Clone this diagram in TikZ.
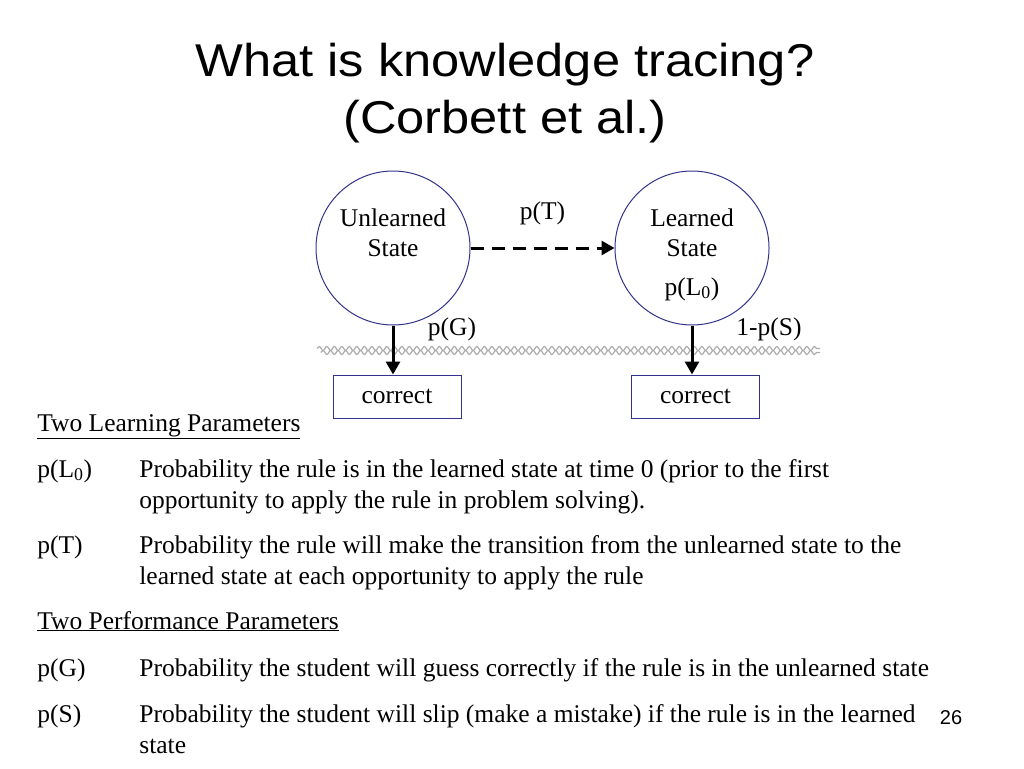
\documentclass[tikz,border=0pt]{standalone}
\usepackage{fontspec}
\setmainfont{Liberation Serif}
\newfontfamily\titlefont{Liberation Sans}
\usetikzlibrary{positioning,arrows.meta,decorations.pathmorphing}

\definecolor{statecol}{RGB}{51,51,140}

\begin{document}
\begin{tikzpicture}[x=1pt, y=-1pt, thick,
    state/.style={shape=circle, draw=statecol, line width=1pt, minimum size=154pt},
    obs/.style={shape=rectangle, draw=statecol, line width=1pt, minimum width=128pt, minimum height=43pt, font=\fontsize{25.5}{30}\selectfont},
    lbl/.style={font=\fontsize{25.5}{30}\selectfont},
    body/.style={anchor=base west, inner sep=0pt, font=\fontsize{25.5}{30}\selectfont},
    heading/.style={anchor=base, inner sep=0pt, font=\titlefont\fontsize{46}{54}\selectfont},
    rope/.style={gray!65, line width=1.2pt, decorate, decoration={snake, amplitude=2pt, segment length=7.5pt}},
    emit/.style={-{Triangle[length=13pt,width=14pt]}, line width=3pt}]
	\useasboundingbox (0,0) rectangle (1024,768);
	% title
	\node (title1) at (505,77) [heading] {\scalebox{1.1}[1]{What is knowledge tracing?}};
	\node (title2) at (505,133) [heading] {\scalebox{1.1}[1]{(Corbett et al.)}};
	% states
	\node (unlearned) at (393,248) [state] {};
	\node (unlearnedtxt) at (393,233) [lbl, align=center] {Unlearned\\State};
	\node (learned) at (692,248) [state] {};
	\node (learnedtxt) at (692,233) [lbl, align=center] {Learned\\State};
	\node (pL0) at (692,289) [lbl] {p(L\textsubscript{0})};
	\node (corrU) at (397,396.5) [obs] {correct};
	\node (corrL) at (695.5,396.5) [obs] {correct};
	% wavy band
	\draw[rope] (317,348.5) -- (820,348.5);
	\draw[rope] (320.75,352.5) -- (820,352.5);
	% transitions
	\draw[emit, dash pattern=on 13pt off 8pt] (unlearned) -- node[lbl, above=18pt] {p(T)} (learned);
	\draw[emit] (unlearned.south) -- (unlearned.south |- corrU.north);
	\draw[emit] (learned.south) -- (learned.south |- corrL.north);
	\node (pG) at (452,329) [lbl] {p(G)};
	\node (pS) at (769,329) [lbl] {1-p(S)};
	% parameters
	\node (head1) at (37,431) [body] {\underline{Two Learning Parameters}};
	\node (nL0) at (37,477) [body] {p(L\textsubscript{0})};
	\node (dL0a) at (139,477) [body] {Probability the rule is in the learned state at time 0 (prior to the first};
	\node (dL0b) at (139,508) [body] {opportunity to apply the rule in problem solving).};
	\node (nT) at (37,553) [body] {p(T)};
	\node (dTa) at (139,553) [body] {Probability the rule will make the transition from the unlearned state to the};
	\node (dTb) at (139,584) [body] {learned state at each opportunity to apply the rule};
	\node (head2) at (37,629) [body] {\underline{Two Performance Parameters}};
	\node (nG) at (37,676) [body] {p(G)};
	\node (dG) at (139,676) [body] {Probability the student will guess correctly if the rule is in the unlearned state};
	\node (nS) at (37,722) [body] {p(S)};
	\node (dSa) at (139,722) [body] {Probability the student will slip (make a mistake) if the rule is in the learned};
	\node (dSb) at (139,753) [body] {state};
	\node (page) at (951,718) {\titlefont\fontsize{20}{24}\selectfont 26};
\end{tikzpicture}
\end{document}
